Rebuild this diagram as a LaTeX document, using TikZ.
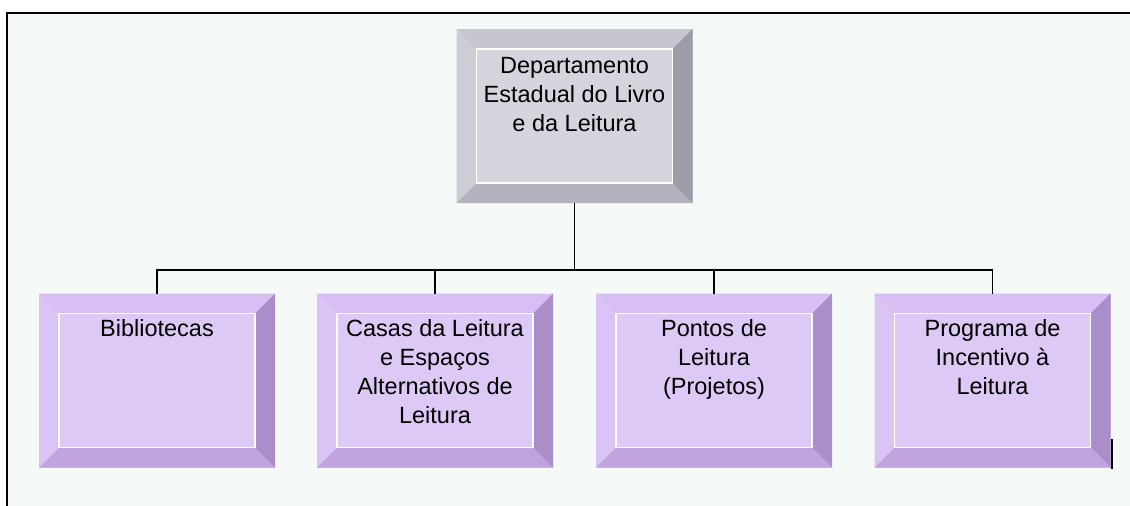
\documentclass[tikz,border=0pt]{standalone}
\usepackage{fontspec}
\setmainfont{Liberation Sans}
\usetikzlibrary{calc}

\definecolor{paper}{HTML}{F5F9F7}
\definecolor{greyface}{HTML}{D5D5DD}
\definecolor{greytop}{HTML}{C6C6CE}
\definecolor{greyleft}{HTML}{CDCDD6}
\definecolor{greyright}{HTML}{9D9DA9}
\definecolor{greybot}{HTML}{B3B3BE}
\definecolor{lilaface}{HTML}{DDC9F5}
\definecolor{lilatop}{HTML}{D8BFF3}
\definecolor{lilaleft}{HTML}{DAC4F5}
\definecolor{lilaright}{HTML}{A98EC9}
\definecolor{lilabot}{HTML}{C0A3DF}

% bevel round a box node: name, top, left, right, bottom
\newcommand{\bevel}[5]{%
\fill[#2] (#1.north west) -- (#1.north east) -- ([shift={(-20,20)}]#1.north east) -- ([shift={(20,20)}]#1.north west) -- cycle;
\fill[#3] (#1.north west) -- ([shift={(20,20)}]#1.north west) -- ([shift={(20,-20)}]#1.south west) -- (#1.south west) -- cycle;
\fill[#4] (#1.north east) -- ([shift={(-20,20)}]#1.north east) -- ([shift={(-20,-20)}]#1.south east) -- (#1.south east) -- cycle;
\fill[#5] (#1.south west) -- ([shift={(20,-20)}]#1.south west) -- ([shift={(-20,-20)}]#1.south east) -- (#1.south east) -- cycle;
\draw[white, line width=1.2] ([shift={(20,20)}]#1.north west) rectangle ([shift={(-20,-20)}]#1.south east);
}

\begin{document}
\begin{tikzpicture}[x=1pt, y=-1pt,
  box/.style={minimum width=236, minimum height=174, inner sep=0, outer sep=0},
  boxtext/.style={anchor=north, inner sep=0, align=center, font=\fontsize{23.5}{29}\selectfont},
  link/.style={line width=1.6, black}]
\useasboundingbox (0,0) rectangle (1130,506);
\fill[paper] (7,13) rectangle (1130,506);
\draw[line width=2] (7,506) -- (7,13) -- (1130,13);

% top box
\node[box, fill=greyface] (dept) at (574.5,116) {};
\bevel{dept}{greytop}{greyleft}{greyright}{greybot}
\node[boxtext] (tdept) at ([yshift=-28]dept.north) {Departamento\\Estadual do Livro\\e da Leitura};

% lower boxes
\node[box, fill=lilaface] (bib) at (157,380.5) {};
\node[box, fill=lilaface] (casas) at (435,380.5) {};
\node[box, fill=lilaface] (pontos) at (714,380.5) {};
\node[box, fill=lilaface] (prog) at (992.5,380.5) {};
\bevel{bib}{lilatop}{lilaleft}{lilaright}{lilabot}
\bevel{casas}{lilatop}{lilaleft}{lilaright}{lilabot}
\bevel{pontos}{lilatop}{lilaleft}{lilaright}{lilabot}
\bevel{prog}{lilatop}{lilaleft}{lilaright}{lilabot}
\node[boxtext] (tbib) at ([yshift=-26]bib.north) {Bibliotecas};
\node[boxtext] (tcasas) at ([yshift=-26]casas.north) {Casas da Leitura\\e Espaços\\Alternativos de\\Leitura};
\node[boxtext] (tpontos) at ([yshift=-26]pontos.north) {Pontos de\\Leitura\\(Projetos)};
\node[boxtext] (tprog) at ([yshift=-26]prog.north) {Programa de\\Incentivo à\\Leitura};

% connectors
\coordinate (bus) at ($(dept.south)+(0,67)$);
\draw[link] (dept.south) -- (bus);
\draw[link] (bib.north) |- (bus);
\draw[link] (prog.north) |- (bus);
\draw[link] (casas.north) -- (casas.north |- bus);
\draw[link] (pontos.north) -- (pontos.north |- bus);

\draw[line width=1.5] (1112,439) -- (1112,469);
\end{tikzpicture}
\end{document}
